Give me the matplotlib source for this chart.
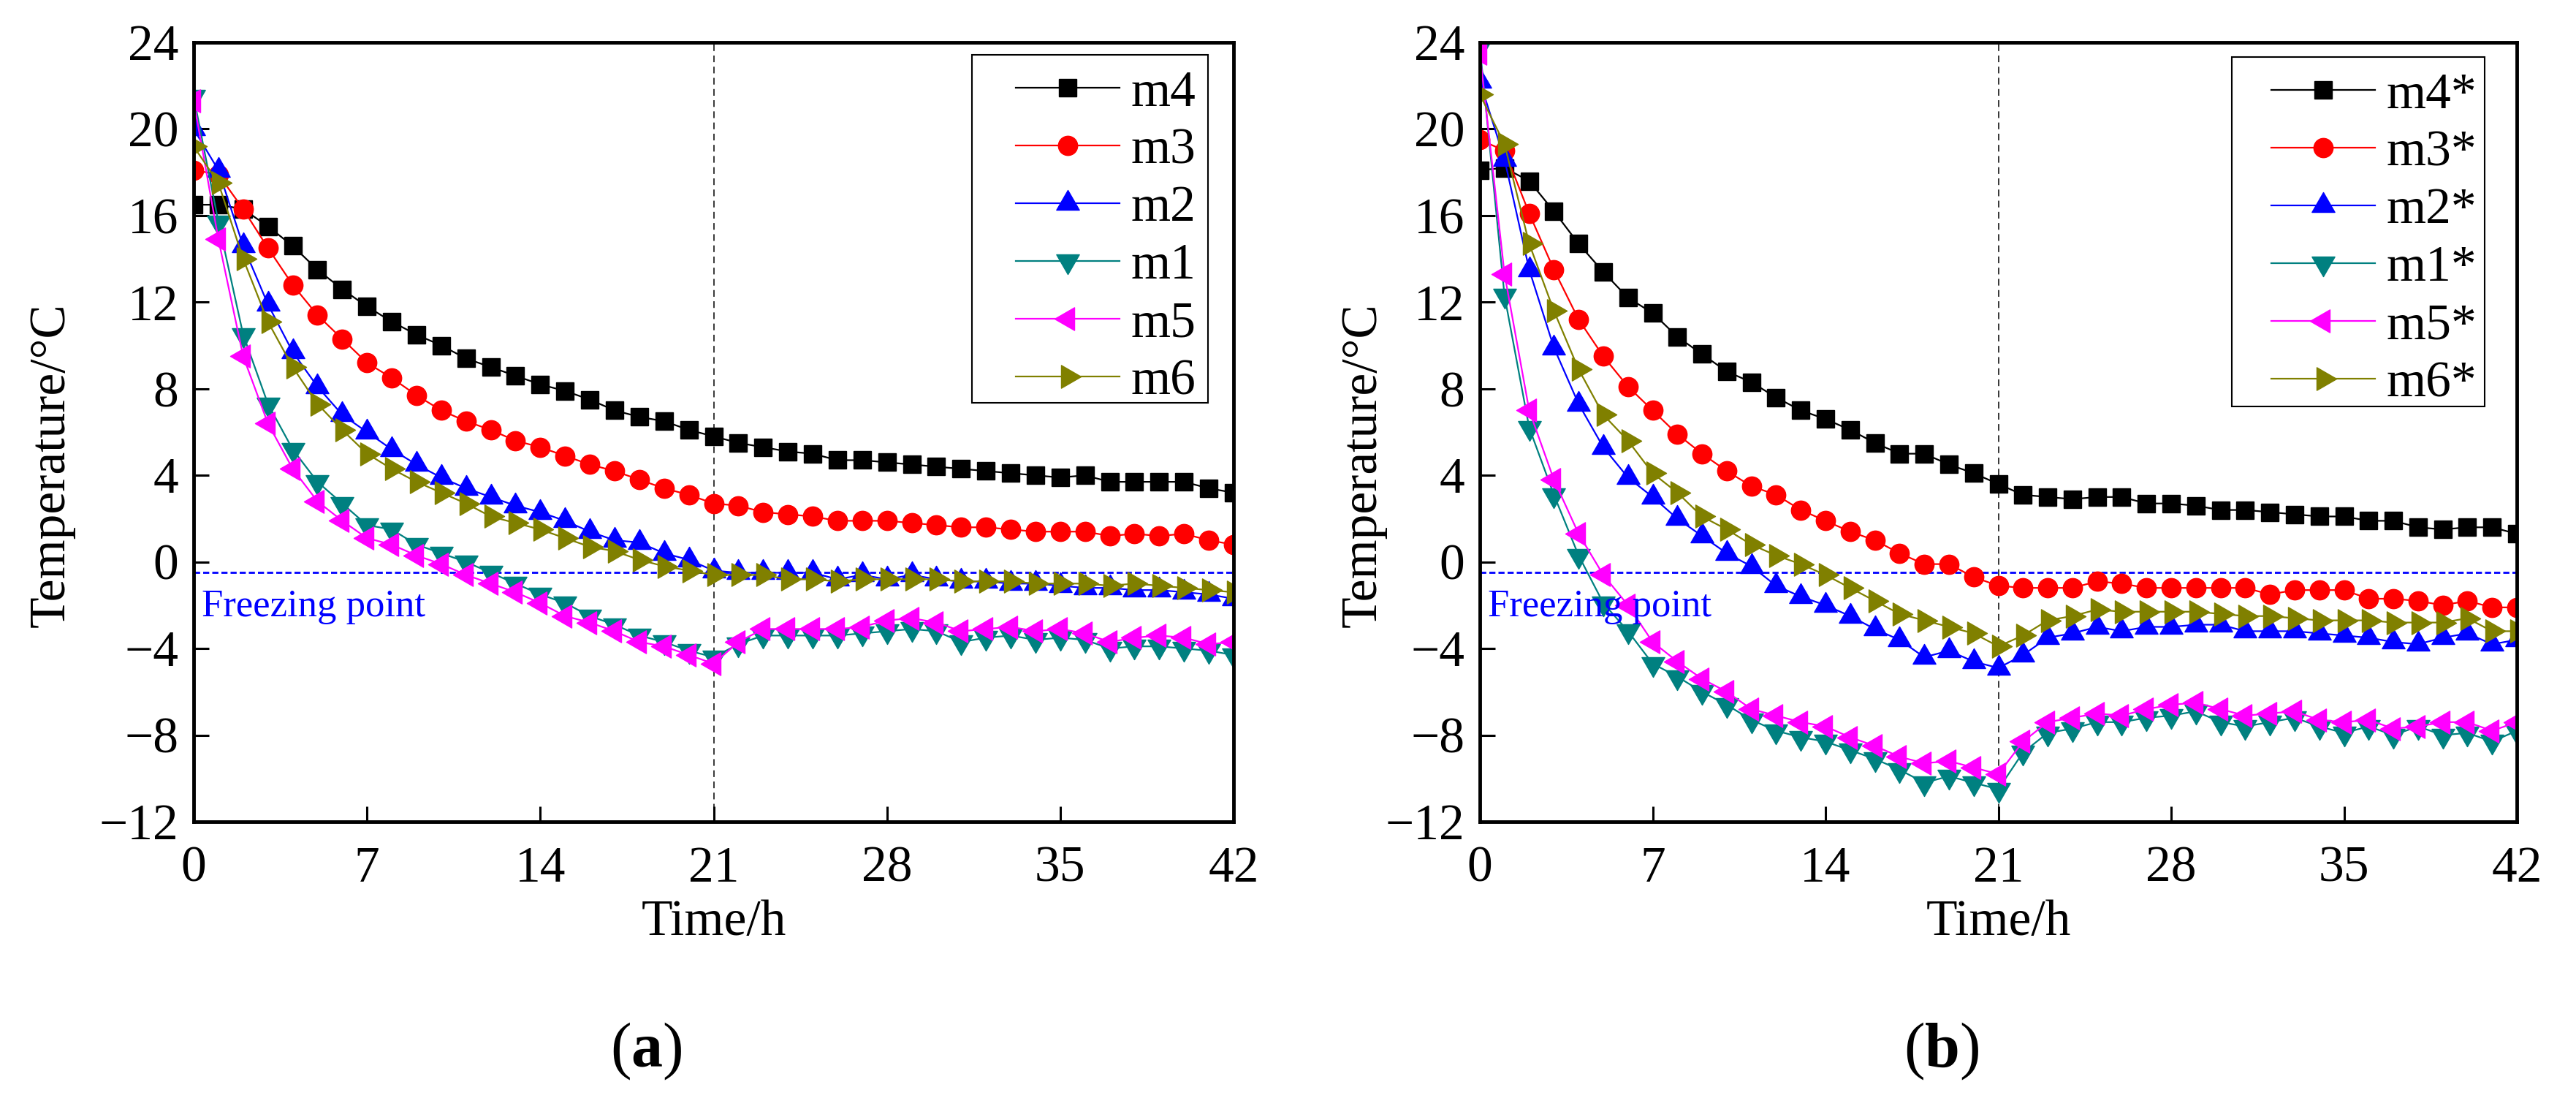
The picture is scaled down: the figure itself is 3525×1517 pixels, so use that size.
import matplotlib.pyplot as plt
from matplotlib.patches import Rectangle
from matplotlib.path import Path

plt.rcParams["font.family"] = ["Liberation Serif", "DejaVu Serif"]
plt.rcParams["mathtext.fontset"] = "custom"
plt.rcParams["mathtext.rm"] = "Liberation Serif"
plt.rcParams["mathtext.bf"] = "Liberation Serif:bold"

hours = list(range(43))

# panel (a)
m4 = [16.5, 16.5, 16.3, 15.5, 14.6, 13.5, 12.6, 11.8, 11.1, 10.5, 10.0, 9.4, 9.0, 8.6,
      8.2, 7.9, 7.5, 7.0, 6.7, 6.5, 6.1, 5.8, 5.5, 5.3, 5.1, 5.0, 4.7, 4.7, 4.6, 4.5,
      4.4, 4.3, 4.2, 4.1, 4.0, 3.9, 4.0, 3.7, 3.7, 3.7, 3.7, 3.4, 3.2]
m3 = [18.1, 17.9, 16.3, 14.5, 12.8, 11.4, 10.3, 9.2, 8.5, 7.7, 7.0, 6.5, 6.1, 5.6,
      5.3, 4.9, 4.5, 4.2, 3.8, 3.4, 3.1, 2.7, 2.6, 2.3, 2.2, 2.1, 1.9, 1.9, 1.9, 1.8,
      1.7, 1.6, 1.6, 1.5, 1.4, 1.4, 1.4, 1.2, 1.3, 1.2, 1.3, 1.0, 0.8]
m2 = [20.0, 18.1, 14.6, 11.9, 9.7, 8.1, 6.8, 6.0, 5.2, 4.5, 3.9, 3.4, 3.0, 2.6,
      2.3, 1.9, 1.4, 1.0, 0.9, 0.4, 0.1, -0.4, -0.5, -0.5, -0.5, -0.5, -0.8, -0.6,
      -0.8, -0.6, -0.8, -0.9, -0.9, -1.0, -1.0, -1.1, -1.2, -1.2, -1.3, -1.3, -1.4,
      -1.5, -1.7]
m1 = [21.5, 15.7, 10.5, 7.3, 5.2, 3.7, 2.7, 1.7, 1.5, 0.8, 0.4, 0.0, -0.5, -1.0,
      -1.5, -1.9, -2.5, -2.9, -3.4, -3.7, -4.1, -4.4, -3.8, -3.4, -3.4, -3.4, -3.4,
      -3.3, -3.2, -3.1, -3.2, -3.7, -3.5, -3.4, -3.6, -3.5, -3.6, -4.0, -3.9, -3.9,
      -4.0, -4.1, -4.3]
m5 = [21.3, 14.9, 9.5, 6.4, 4.3, 2.8, 1.9, 1.1, 0.8, 0.3, -0.1, -0.6, -1.0, -1.4,
      -1.9, -2.5, -2.8, -3.2, -3.7, -3.9, -4.3, -4.7, -3.7, -3.1, -3.1, -3.1, -3.1,
      -3.0, -2.7, -2.6, -2.8, -3.2, -3.1, -3.0, -3.2, -3.1, -3.3, -3.7, -3.5, -3.4,
      -3.5, -3.8, -3.7]
m6 = [19.2, 17.5, 14.0, 11.1, 9.0, 7.3, 6.1, 5.0, 4.3, 3.7, 3.2, 2.7, 2.1, 1.8,
      1.5, 1.1, 0.7, 0.5, 0.1, -0.2, -0.4, -0.6, -0.6, -0.6, -0.8, -0.8, -0.9, -0.8,
      -0.8, -0.8, -0.8, -0.9, -0.9, -0.9, -1.0, -1.0, -1.0, -1.1, -1.0, -1.1, -1.2,
      -1.3, -1.4]

# panel (b)
m4s = [18.1, 18.2, 17.6, 16.2, 14.7, 13.4, 12.2, 11.5, 10.4, 9.6, 8.8, 8.3, 7.6, 7.0,
       6.6, 6.1, 5.5, 5.0, 5.0, 4.5, 4.1, 3.6, 3.1, 3.0, 2.9, 3.0, 3.0, 2.7, 2.7, 2.6,
       2.4, 2.4, 2.3, 2.2, 2.1, 2.1, 1.9, 1.9, 1.6, 1.5, 1.6, 1.6, 1.3]
m3s = [19.5, 19.0, 16.1, 13.5, 11.2, 9.5, 8.1, 7.0, 5.9, 5.0, 4.2, 3.5, 3.1, 2.4,
       1.9, 1.4, 1.0, 0.4, -0.1, -0.1, -0.7, -1.1, -1.2, -1.2, -1.2, -0.9, -1.0, -1.2,
       -1.2, -1.2, -1.2, -1.2, -1.5, -1.3, -1.3, -1.3, -1.7, -1.7, -1.8, -2.0, -1.8,
       -2.1, -2.1]
m2s = [22.2, 18.6, 13.5, 9.9, 7.3, 5.3, 3.9, 3.0, 2.0, 1.2, 0.4, -0.2, -1.1, -1.6,
       -2.0, -2.5, -3.1, -3.6, -4.4, -4.1, -4.6, -4.9, -4.3, -3.5, -3.3, -3.0, -3.2,
       -3.0, -3.0, -2.9, -2.9, -3.2, -3.2, -3.2, -3.3, -3.4, -3.5, -3.7, -3.8, -3.5,
       -3.3, -3.8, -3.6]
m1s = [23.8, 12.3, 6.2, 3.1, 0.3, -1.9, -3.2, -4.7, -5.3, -6.0, -6.6, -7.3, -7.8,
       -8.1, -8.3, -8.7, -9.1, -9.6, -10.2, -9.9, -10.2, -10.5, -8.8, -7.9, -7.7,
       -7.4, -7.4, -7.2, -7.1, -6.9, -7.4, -7.6, -7.4, -7.2, -7.6, -7.9, -7.6, -8.0,
       -7.6, -8.0, -7.9, -8.3, -7.8]
m5s = [23.5, 13.3, 7.0, 3.8, 1.3, -0.6, -2.0, -3.7, -4.6, -5.4, -6.0, -6.8, -7.1,
       -7.4, -7.6, -8.1, -8.5, -9.0, -9.3, -9.2, -9.5, -9.8, -8.3, -7.4, -7.2, -7.0,
       -7.1, -6.8, -6.6, -6.5, -6.8, -7.1, -7.0, -6.9, -7.3, -7.4, -7.3, -7.7, -7.6,
       -7.4, -7.4, -7.8, -7.4]
m6s = [21.6, 19.3, 14.7, 11.6, 8.9, 6.8, 5.6, 4.1, 3.2, 2.1, 1.5, 0.8, 0.3, -0.1,
       -0.6, -1.2, -1.8, -2.4, -2.7, -3.0, -3.3, -3.9, -3.4, -2.7, -2.5, -2.2, -2.3,
       -2.3, -2.3, -2.3, -2.4, -2.5, -2.5, -2.6, -2.7, -2.7, -2.7, -2.8, -2.8, -2.8,
       -2.6, -3.2, -3.2]

labels_a = ["m4", "m3", "m2", "m1", "m5", "m6"]
labels_b = ["m4*", "m3*", "m2*", "m1*", "m5*", "m6*"]
colors = ["black", "red", "blue", "#008080", "magenta", "#808000"]

FREEZE = -0.5


# Origin-like equilateral triangles, centred on their centroid
def tri(angle):
    pts = {"up": [(0, 1.155), (-1, -0.577), (1, -0.577)],
           "down": [(0, -1.155), (-1, 0.577), (1, 0.577)],
           "left": [(-1.155, 0), (0.577, -1), (0.577, 1)],
           "right": [(1.155, 0), (-0.577, -1), (-0.577, 1)]}[angle]
    return Path(pts + [pts[0]], [Path.MOVETO, Path.LINETO, Path.LINETO, Path.CLOSEPOLY])


markers = ["s", "o", tri("up"), tri("down"), tri("left"), tri("right")]
msizes = [17.5, 19, 26, 26, 26, 26]

W, H = 3525, 1517
fig = plt.figure(figsize=(W / 100, H / 100), dpi=100)
ax_a = fig.add_axes([265 / W, 1 - 1124 / H, 1423 / W, 1066 / H])
ax_b = fig.add_axes([2025 / W, 1 - 1124 / H, 1419 / W, 1066 / H])

# legend frame box (px: x0, y0, x1, y1) and handle start / first row top (px)
panels = [
    (ax_a, [m4, m3, m2, m1, m5, m6], labels_a, (1330, 75, 1653, 551), (1390, 96), -0.114),
    (ax_b, [m4s, m3s, m2s, m1s, m5s, m6s], labels_b, (3054, 78, 3400, 556), (3108, 99), -0.090),
]

for ax, series, labels, box, anchor, ylx in panels:
    for ys, lab, c, mk, ms in zip(series, labels, colors, markers, msizes):
        ax.plot(hours, ys, color=c, marker=mk, markersize=ms, linewidth=1.6,
                label=lab)
    ax.axhline(FREEZE, color="blue", linewidth=2, linestyle=(0, (3, 1.5)), zorder=1)
    ax.axvline(21, color="black", linewidth=1.1, linestyle=(0, (6, 4)), zorder=1)
    ax.text(0.008, 0.2636, "Freezing point", transform=ax.transAxes, color="blue",
            fontsize=38, va="baseline", ha="left")

    ax.set_xlim(0, 42)
    ax.set_ylim(-12, 24)
    ax.set_xticks(range(0, 43, 7))
    ax.set_yticks(range(-12, 25, 4))
    ax.tick_params(axis="both", direction="in", length=15, width=2.2, labelsize=50,
                   top=False, right=False)
    ax.tick_params(axis="x", pad=24)
    ax.tick_params(axis="y", pad=15)
    for sp in ax.spines.values():
        sp.set_linewidth(3.5)

    ax.set_xlabel("Time/h", fontsize=50)
    ax.xaxis.set_label_coords(0.5, -0.1)
    ax.set_ylabel("Temperature/°C", fontsize=50)
    ax.yaxis.set_label_coords(ylx, 0.458)

    x0, y0, x1, y1 = box
    ax.add_patch(Rectangle((x0 / W, 1 - y1 / H), (x1 - x0) / W, (y1 - y0) / H,
                           transform=fig.transFigure, facecolor="white",
                           edgecolor="black", linewidth=1.5, zorder=4.5))
    ax.legend(loc="upper left", bbox_to_anchor=(anchor[0] / W, 1 - anchor[1] / H),
              bbox_transform=fig.transFigure, borderaxespad=0, borderpad=0,
              frameon=False, fontsize=50, handlelength=2.05, handletextpad=0.22,
              labelspacing=0.22)

fig.text(884 / W, 1 - 1438 / H, r"($\mathbf{a}$)", fontsize=62,
         ha="center", va="center")
fig.text(2657 / W, 1 - 1438 / H, r"($\mathbf{b}$)", fontsize=62,
         ha="center", va="center")

fig.savefig("out.png", dpi=100)
